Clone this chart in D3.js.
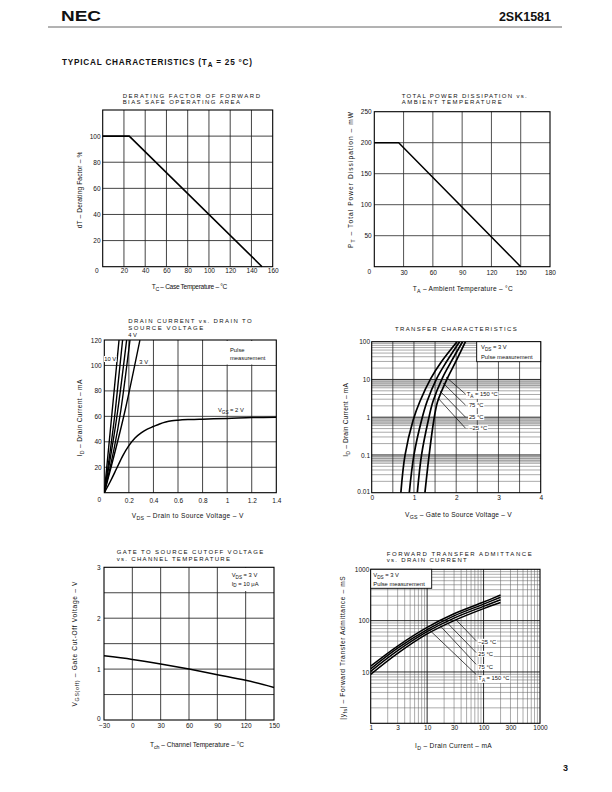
<!DOCTYPE html>
<html><head><meta charset="utf-8">
<script src="https://cdn.jsdelivr.net/npm/d3@7"></script>
<style>
body{margin:0;background:#fff}
svg text{font-family:"Liberation Sans",Arial,Helvetica,sans-serif;fill:#111}
</style></head><body>
<svg id="page" width="612" height="792"></svg>
<script>
// ================= DATA =================
// 1. Derating factor vs case temperature
const derTc = [0, 25, 150];
const derFactor = [100, 100, 0];
const derXTicks = [20, 40, 60, 80, 100, 120, 140, 160];
const derYTicks = [20, 40, 60, 80, 100];
// 2. Total power dissipation vs ambient temperature
const pdTa = [0, 25, 150];
const pdPower = [200, 200, 0];
const pdXTicks = [30, 60, 90, 120, 150, 180];
const pdYTicks = [50, 100, 150, 200, 250];
// 3. Drain current vs drain-source voltage
const ivVds2 = [0, 0.05, 0.1, 0.15, 0.2, 0.25, 0.3, 0.35, 0.4, 0.45, 0.5, 0.55, 0.6, 0.7, 0.8, 1.0, 1.2, 1.4];
const ivId2 = [0, 9, 19, 29, 37, 43, 47, 50, 52, 54, 55.5, 56.5, 57, 57.5, 57.8, 58.3, 59, 59.3];
const ivSteepNames = ["10 V", "6 V", "5 V", "4 V", "3 V"];
const ivSteepVds = [[0, 0.065, 0.12], [0, 0.09, 0.149], [0, 0.11, 0.182], [0, 0.135, 0.209], [0, 0.17, 0.29]];
const ivSteepId = [0, 65, 120];
const ivXTicks = [0.2, 0.4, 0.6, 0.8, 1.0, 1.2, 1.4];
const ivYTicks = [20, 40, 60, 80, 100, 120];
// 4. Transfer characteristics
const tcNames = ["T_{A} = 150 °C", "75 °C", "25 °C", "–25 °C"];
const tcId = [0.01, 0.1, 0.83, 2.6, 10.7, 29.5, 100];
const tcVgs150 = [0.69, 0.79, 0.98, 1.14, 1.40, 1.65, 2.02];
const tcVgs75 = [0.89, 1.0, 1.18, 1.31, 1.54, 1.77, 2.08];
const tcVgs25 = [1.08, 1.18, 1.34, 1.45, 1.67, 1.88, 2.15];
const tcVgsM25 = [1.26, 1.36, 1.47, 1.56, 1.79, 1.99, 2.22];
const tcXTicks = [0, 1, 2, 3, 4];
const tcYTicks = [0.01, 0.1, 1, 10, 100];
// 5. Gate cut-off voltage vs channel temperature
const coTch = [-30, 0, 30, 60, 90, 120, 150];
const coVgs = [1.26, 1.19, 1.1, 1.0, 0.89, 0.78, 0.64];
const coXTicks = [-30, 0, 30, 60, 90, 120, 150];
const coYTicks = [0, 1, 2, 3];
// 6. Forward transfer admittance vs drain current
const yfsNames = ["–25 °C", "25 °C", "75 °C", "T_{A} = 150 °C"];
const yfsId = [1, 3, 10, 30, 100, 200];
const yfsM25 = [13, 32, 74, 136, 230, 315];
const yfs25 = [11.5, 29, 67, 124, 210, 285];
const yfs75 = [10.3, 26, 61, 112, 190, 255];
const yfs150 = [9, 23, 55, 100, 171, 225];
const yfsXTicks = [1, 3, 10, 30, 100, 300, 1000];
const yfsYTicks = [10, 100, 1000];

// ================= HELPERS =================
const svg = d3.select("#page");
const TF = 6.5;
const AF = 6.6;
const FONT = '"Liberation Sans", Arial, Helvetica, sans-serif';
const fmtNum = d => d < 0 ? "−" + Math.abs(d) : String(d);

function rich(g, x, y, str, size, anchor) {
  const t = g.append("text").attr("x", x).attr("y", y).attr("font-size", size)
    .attr("text-anchor", anchor || "start");
  const re = /_\{([^}]*)\}/g; let last = 0, m, pending = 0;
  while ((m = re.exec(str))) {
    if (m.index > last) { t.append("tspan").attr("dy", pending).text(str.slice(last, m.index)); pending = 0; }
    t.append("tspan").attr("dy", size * 0.3 + pending).attr("font-size", size * 0.8).text(m[1]);
    pending = -size * 0.3; last = re.lastIndex;
  }
  if (last < str.length) t.append("tspan").attr("dy", pending).text(str.slice(last));
  return t;
}
function vLines(g, x, y, vals, stroke, w) {
  g.append("g").selectAll("line").data(vals).join("line")
    .attr("x1", d => x(d)).attr("x2", d => x(d)).attr("y1", y.range()[0]).attr("y2", y.range()[1])
    .attr("stroke", stroke).attr("stroke-width", w);
}
function hLines(g, x, y, vals, stroke, w) {
  g.append("g").selectAll("line").data(vals).join("line")
    .attr("y1", d => y(d)).attr("y2", d => y(d)).attr("x1", x.range()[0]).attr("x2", x.range()[1])
    .attr("stroke", stroke).attr("stroke-width", w);
}
function frame(g, x, y) {
  g.append("rect").attr("x", x.range()[0]).attr("y", y.range()[1])
    .attr("width", x.range()[1] - x.range()[0]).attr("height", y.range()[0] - y.range()[1])
    .attr("fill", "none").attr("stroke", "#000").attr("stroke-width", 1.1);
}
function xAxis(g, x, y, ticks, off) {
  const a = g.append("g").attr("transform", `translate(0,${y.range()[0]})`)
    .call(d3.axisBottom(x).tickValues(ticks).tickSize(0).tickPadding(off - 0.71 * TF).tickFormat(fmtNum));
  a.select(".domain").remove();
  a.attr("font-size", TF).attr("font-family", FONT);
  a.selectAll("text").attr("fill", "#111");
  return a;
}
function yAxis(g, x, y, ticks, pad) {
  const a = g.append("g").attr("transform", `translate(${x.range()[0]},0)`)
    .call(d3.axisLeft(y).tickValues(ticks).tickSize(0).tickPadding(pad).tickFormat(fmtNum));
  a.select(".domain").remove();
  a.attr("font-size", TF).attr("font-family", FONT);
  a.selectAll("text").attr("fill", "#111");
  return a;
}
function title(g, x, y, str, len) {
  g.append("text").attr("x", x).attr("y", y).attr("font-size", 6)
    .attr("textLength", len).attr("lengthAdjust", "spacing").text(str);
}
function xTitle(g, x, y, str, len) {
  rich(g, x, y, str, AF, "start").attr("textLength", len).attr("lengthAdjust", "spacing");
}
function yTitle(g, cx, cy, str, len) {
  rich(g, 0, 0, str, AF, "middle").attr("transform", `translate(${cx},${cy}) rotate(-90)`)
    .attr("textLength", len).attr("lengthAdjust", "spacing");
}
function curve(g, pts, x, y, w, c) {
  g.append("path").datum(pts)
    .attr("d", d3.line().x(d => x(d[0])).y(d => y(d[1])).curve(c || d3.curveLinear))
    .attr("fill", "none").attr("stroke", "#000").attr("stroke-width", w || 1.5)
    .attr("stroke-linejoin", "round");
}
function whiteBg(g, textSel, padX, padY) {
  const b = textSel.node().getBBox();
  g.insert("rect", () => textSel.node()).attr("x", b.x - padX).attr("y", b.y - padY)
    .attr("width", b.width + 2 * padX).attr("height", b.height + 2 * padY).attr("fill", "#fff");
}
function clipFor(id, x, y) {
  svg.append("defs").append("clipPath").attr("id", id).append("rect")
    .attr("x", x.range()[0]).attr("y", y.range()[1])
    .attr("width", x.range()[1] - x.range()[0]).attr("height", y.range()[0] - y.range()[1]);
}
const logMinor = (lo, hi) => { const out = []; for (let d = lo; d < hi * 0.999; d *= 10) for (let k = 2; k <= 9; k++) out.push(d * k); return out; };

// ================= PAGE HEADER =================
svg.append("text").attr("x", 61).attr("y", 20.5).attr("font-size", 15).attr("font-weight", 900)
  .attr("textLength", 40).attr("lengthAdjust", "spacingAndGlyphs").text("NEC");
svg.append("text").attr("x", 551).attr("y", 21).attr("text-anchor", "end").attr("font-size", 12.5)
  .attr("font-weight", "bold").text("2SK1581");
svg.append("line").attr("x1", 48).attr("x2", 562).attr("y1", 27).attr("y2", 27)
  .attr("stroke", "#555").attr("stroke-width", 0.9);
rich(svg, 62, 65, "TYPICAL CHARACTERISTICS (T_{A} = 25 °C)", 8.2, "start")
  .attr("font-weight", "bold").attr("textLength", 190).attr("lengthAdjust", "spacing");
svg.append("text").attr("x", 563).attr("y", 771).attr("font-size", 9).attr("font-weight", "bold").text("3");

// ================= CHART 1 =================
{
  const g = svg.append("g");
  const x = d3.scaleLinear().domain([0, 160]).range([102.7, 272.7]);
  const y = d3.scaleLinear().domain([0, 120]).range([266.7, 110]);
  vLines(g, x, y, derXTicks.slice(0, -1), "#222", 0.85);
  hLines(g, x, y, derYTicks, "#222", 0.85);
  frame(g, x, y);
  curve(g, derTc.map((t, i) => [t, derFactor[i]]), x, y, 1.6);
  xAxis(g, x, y, derXTicks, 6.5);
  yAxis(g, x, y, derYTicks, 2.2);
  g.append("text").attr("x", x(0) - 6).attr("y", y(0) + 6.5).attr("font-size", TF).attr("text-anchor", "middle").text("0");
  title(g, 122.7, 97.7, "DERATING FACTOR OF FORWARD", 137.3);
  title(g, 122.7, 103.7, "BIAS SAFE OPERATING AREA", 117.3);
  xTitle(g, 151.7, 289, "T_{C} – Case Temperature – °C", 75.6);
  yTitle(g, 82, 190, "dT – Derating Factor – %", 76.6);
}

// ================= CHART 2 =================
{
  const g = svg.append("g");
  const x = d3.scaleLinear().domain([0, 180]).range([374.3, 550]);
  const y = d3.scaleLinear().domain([0, 250]).range([266.7, 111.7]);
  vLines(g, x, y, pdXTicks.slice(0, -1), "#333", 0.85);
  hLines(g, x, y, pdYTicks.slice(0, -1), "#333", 0.85);
  frame(g, x, y);
  curve(g, pdTa.map((t, i) => [t, pdPower[i]]), x, y, 1.5);
  xAxis(g, x, y, pdXTicks, 8.6);
  yAxis(g, x, y, pdYTicks, 2.6);
  g.append("text").attr("x", x(0) - 5).attr("y", y(0) + 7.5).attr("font-size", TF).attr("text-anchor", "middle").text("0");
  title(g, 401.7, 98.3, "TOTAL POWER DISSIPATION vs.", 125);
  title(g, 401.7, 104.3, "AMBIENT TEMPERATURE", 100);
  xTitle(g, 412.7, 291, "T_{A} – Ambient Temperature – °C", 100);
  yTitle(g, 352.7, 180, "P_{T} – Total Power Dissipation – mW", 136);
}

// ================= CHART 3 =================
{
  const g = svg.append("g");
  const x = d3.scaleLinear().domain([0, 1.4]).range([104.3, 276.3]);
  const y = d3.scaleLinear().domain([0, 120]).range([492.7, 340]);
  clipFor("c3", x, y);
  vLines(g, x, y, ivXTicks.slice(0, -1), "#222", 0.85);
  hLines(g, x, y, ivYTicks.slice(0, -1), "#222", 0.85);
  g.append("rect").attr("x", 226).attr("y", 341).attr("width", 49.5).attr("height", 23.5).attr("fill", "#fff");
  g.append("text").attr("x", 230).attr("y", 351.5).attr("font-size", 5.8).text("Pulse");
  g.append("text").attr("x", 230).attr("y", 360).attr("font-size", 5.8).text("measurement");
  frame(g, x, y);
  const cg = g.append("g").attr("clip-path", "url(#c3)");
  curve(cg, ivVds2.map((v, i) => [v, ivId2[i]]), x, y, 1.5, d3.curveMonotoneX);
  ivSteepVds.forEach(vs => curve(cg, vs.map((v, i) => [v, ivSteepId[i]]), x, y, 1.4, d3.curveMonotoneX));
  xAxis(g, x, y, ivXTicks, 10);
  yAxis(g, x, y, ivYTicks, 2.6);
  g.append("text").attr("x", x(0) - 5).attr("y", y(0) + 9.5).attr("font-size", TF).attr("text-anchor", "middle").text("0");
  g.append("text").attr("x", x(0.195)).attr("y", y(122.5)).attr("font-size", 5.8).text("4 V");
  const t10 = g.append("text").attr("x", x(0.0)).attr("y", y(103.5)).attr("font-size", 5.8).text("10 V");
  whiteBg(g, t10, 0.3, 0);
  const t3 = g.append("text").attr("x", x(0.285)).attr("y", y(101)).attr("font-size", 5.8).text("3 V");
  whiteBg(g, t3, 0.5, 0);
  rich(g, x(0.925), y(63.5), "V_{GS} = 2 V", 5.8, "start");
  title(g, 128.3, 323.3, "DRAIN CURRENT vs. DRAIN TO", 123.4);
  title(g, 128.3, 330, "SOURCE VOLTAGE", 75);
  xTitle(g, 131.7, 518.3, "V_{DS} – Drain to Source Voltage – V", 111.6);
  yTitle(g, 82, 418, "I_{D} – Drain Current – mA", 76.7);
}

// ================= CHART 4 =================
{
  const g = svg.append("g");
  const x = d3.scaleLinear().domain([0, 4]).range([371.7, 540.7]);
  const y = d3.scaleLog().domain([0.01, 100]).range([492.7, 341.7]);
  clipFor("c4", x, y);
  [0.1, 1, 10].forEach(d => g.append("rect").attr("x", x.range()[0]).attr("width", x.range()[1] - x.range()[0])
    .attr("y", y(d * 0.97)).attr("height", y(d * 0.62) - y(d * 0.97)).attr("fill", "#d4d4d4"));
  hLines(g, x, y, logMinor(0.01, 100), "#555", 0.5);
  hLines(g, x, y, [0.1, 1, 10], "#111", 0.9);
  vLines(g, x, y, [0.5, 1, 1.5, 2, 2.5, 3, 3.5], "#222", 0.75);
  frame(g, x, y);
  const cg = g.append("g").attr("clip-path", "url(#c4)");
  [tcVgs150, tcVgs75, tcVgs25, tcVgsM25].forEach(vs =>
    curve(cg, vs.map((v, i) => [v, tcId[i]]), x, y, 1.7, d3.curveCatmullRom.alpha(0.5)));
  g.append("rect").attr("x", 476.7).attr("y", y.range()[1]).attr("width", x.range()[1] - 476.7).attr("height", 20)
    .attr("fill", "#fff").attr("stroke", "#000").attr("stroke-width", 0.9);
  rich(g, 481, 349, "V_{DS} = 3 V", 5.8, "start");
  g.append("text").attr("x", 481).attr("y", 358.5).attr("font-size", 5.8).text("Pulse measurement");
  const labY = [3.63, 1.85, 0.89, 0.455];
  const labX = [2.25, 2.3, 2.3, 2.31];
  const ptStart = [[2.22, 4.1], [2.22, 2.09], [2.22, 1.0], [2.22, 0.51]];
  const ptEnd = [[1.76, 11.6], [1.69, 8.0], [1.62, 4.9], [1.57, 3.2]];
  ptStart.forEach((s, i) => g.append("line").attr("x1", x(s[0])).attr("y1", y(s[1]))
    .attr("x2", x(ptEnd[i][0])).attr("y2", y(ptEnd[i][1])).attr("stroke", "#000").attr("stroke-width", 0.7));
  tcNames.forEach((n, i) => { const t = rich(g, x(labX[i]), y(labY[i]), n, 5.8, "start"); whiteBg(g, t, 0.8, 0); });
  xAxis(g, x, y, tcXTicks, 7.2);
  const ya = yAxis(g, x, y, tcYTicks, 1.7);
  ya.selectAll("text").filter(d => d === 0.01).attr("dy", "0.1em");
  title(g, 395, 331, "TRANSFER CHARACTERISTICS", 121.7);
  xTitle(g, 405, 516.7, "V_{GS} – Gate to Source Voltage – V", 106.7);
  yTitle(g, 348, 420, "I_{D} – Drain Current – mA", 73.7);
}

// ================= CHART 5 =================
{
  const g = svg.append("g");
  const x = d3.scaleLinear().domain([-30, 150]).range([104, 274]);
  const y = d3.scaleLinear().domain([0, 3]).range([720, 567.3]);
  vLines(g, x, y, [0, 30, 60, 90, 120], "#222", 0.85);
  hLines(g, x, y, [0.5, 1, 1.5, 2, 2.5], "#222", 0.85);
  g.append("rect").attr("x", 219).attr("y", 568).attr("width", 54.5).attr("height", 23).attr("fill", "#fff");
  rich(g, 231.7, 577, "V_{DS} = 3 V", 5.8, "start");
  rich(g, 231.7, 585.5, "I_{D} = 10 μA", 5.8, "start");
  frame(g, x, y);
  curve(g, coTch.map((t, i) => [t, coVgs[i]]), x, y, 1.5, d3.curveMonotoneX);
  xAxis(g, x, y, coXTicks, 8.3);
  const ya = yAxis(g, x, y, coYTicks, 3.3);
  ya.selectAll("text").filter(d => d === 0).attr("dy", "0.05em");
  title(g, 116.7, 554, "GATE TO SOURCE CUTOFF VOLTAGE", 146.6);
  title(g, 116.7, 560.7, "vs. CHANNEL TEMPERATURE", 113.3);
  xTitle(g, 150, 746.7, "T_{ch} – Channel Temperature – °C", 94);
  yTitle(g, 77, 644, "V_{GS(off)} – Gate Cut-Off Voltage – V", 125);
}

// ================= CHART 6 =================
{
  const g = svg.append("g");
  const x = d3.scaleLog().domain([1, 1000]).range([370.7, 540]);
  const y = d3.scaleLog().domain([1, 1000]).range([723.3, 569.3]);
  clipFor("c6", x, y);
  vLines(g, x, y, logMinor(1, 1000), "#666", 0.55);
  hLines(g, x, y, logMinor(1, 1000), "#666", 0.55);
  vLines(g, x, y, [10, 100], "#111", 0.9);
  hLines(g, x, y, [10, 100], "#111", 0.9);
  frame(g, x, y);
  const cg = g.append("g").attr("clip-path", "url(#c6)");
  [yfsM25, yfs25, yfs75, yfs150].forEach(vs =>
    curve(cg, yfsId.map((d, i) => [d, vs[i]]), x, y, 1.5, d3.curveCatmullRom.alpha(0.5)));
  g.append("rect").attr("x", x.range()[0]).attr("y", y.range()[1]).attr("width", 61).attr("height", 19)
    .attr("fill", "#fff").attr("stroke", "#000").attr("stroke-width", 0.9);
  rich(g, 373.3, 577, "V_{DS} = 3 V", 5.8, "start");
  g.append("text").attr("x", 373.3).attr("y", 585.5).attr("font-size", 5.8).text("Pulse measurement");
  const ptStart = [[73.6, 40.6], [73.6, 23.9], [73.6, 14.1], [73.6, 8.97]];
  const ptEnd = [[33.4, 100.5], [22.2, 93], [16.9, 80], [10.5, 69]];
  ptStart.forEach((s, i) => g.append("line").attr("x1", x(s[0])).attr("y1", y(s[1]))
    .attr("x2", x(ptEnd[i][0])).attr("y2", y(ptEnd[i][1])).attr("stroke", "#000").attr("stroke-width", 0.7));
  const labY = [35.4, 20.6, 11.4, 6.93];
  yfsNames.forEach((n, i) => { const t = rich(g, x(80.9), y(labY[i]), n, 5.8, "start"); whiteBg(g, t, 0.8, 0); });
  xAxis(g, x, y, yfsXTicks, 7);
  yAxis(g, x, y, yfsYTicks, 1.4);
  title(g, 386.7, 556, "FORWARD TRANSFER ADMITTANCE", 145);
  title(g, 386.7, 562.3, "vs. DRAIN CURRENT", 80);
  xTitle(g, 415, 747.7, "I_{D} – Drain Current – mA", 76.7);
  yTitle(g, 345.3, 648, "|y_{fs}| – Forward Transfer Admittance – mS", 143.3);
}
</script>
</body></html>
